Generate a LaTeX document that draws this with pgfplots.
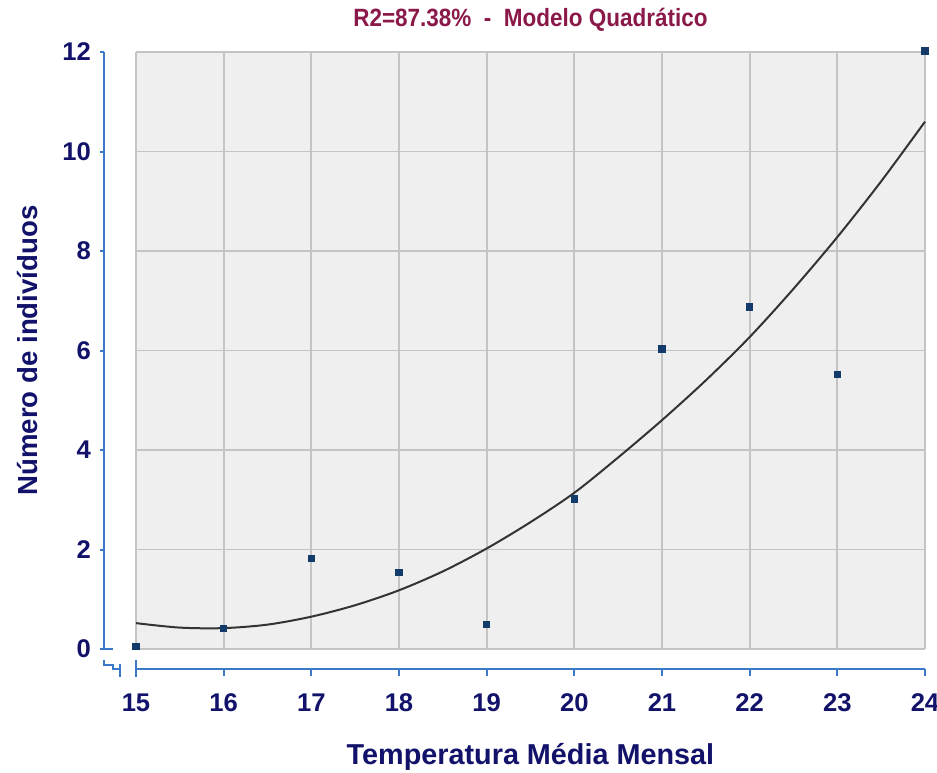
\documentclass[border=0pt]{standalone}
\usepackage{pgfplots}
\pgfplotsset{compat=1.18}
\usepackage{fontspec}
\setmainfont{Liberation Sans}
\newfontfamily\narrowfont[FakeStretch=0.90]{Liberation Sans}
\definecolor{navy}{HTML}{12126A}
\definecolor{axblue}{HTML}{3A78C8}
\definecolor{titlered}{HTML}{8A1848}
\definecolor{bggray}{HTML}{EFEFEF}
\definecolor{gridgray}{HTML}{C4C4C4}
\definecolor{markblue}{HTML}{123A6A}
\begin{document}
\begin{tikzpicture}
\path[use as bounding box] (-68pt,-61.5pt) rectangle (400.5pt,324.5pt);
\begin{axis}[
  at={(0pt,0pt)}, anchor=south west,
  scale only axis,
  width=394.5pt, height=298.5pt,
  xmin=15, xmax=24, ymin=0, ymax=12,
  xtick={15,...,24}, ytick={0,2,...,12},
  axis line style={draw=none},
  major tick length=0pt,
  grid=major,
  grid style={gridgray, line width=0.9pt},
  axis background/.style={fill=bggray},
  clip=false,
  /pgf/number format/assume math mode=true,
  ticklabel style={font=\fontsize{12.8}{15}\selectfont\bfseries, text=navy},
  yticklabel style={xshift=-19pt},
  xticklabel style={yshift=-19pt},
  xlabel={Temperatura Média Mensal},
  ylabel={Número de indivíduos},
  label style={font=\fontsize{13.8}{16}\selectfont\bfseries, text=navy},
  xlabel style={font=\fontsize{14.4}{16}\selectfont\bfseries, at={(axis description cs:0.5,-0.181)}, anchor=center},
  ylabel style={at={(axis description cs:-0.137,0.5)}, anchor=center},
]
\addplot[color=black!80, line width=1pt, smooth] coordinates {
(15,0.52) (15.5,0.43) (16,0.42) (16.5,0.49) (17,0.65) (17.5,0.88) (18,1.18)
(18.5,1.56) (19,2.02) (19.5,2.55) (20,3.14) (20.5,3.85) (21,4.6) (21.5,5.4)
(22,6.27) (22.5,7.24) (23,8.28) (23.5,9.4) (24,10.6)};
\addplot[only marks, mark=square*, mark size=1.6pt, color=markblue] coordinates {
(15,0.05) (16,0.42) (17,1.82) (18,1.54) (19,0.5) (20,3.02) (21,6.03) (22,6.88) (23,5.52) (24,12.02)};
% title
\node[font=\narrowfont\fontsize{12.5}{14}\selectfont\bfseries, text=titlered, anchor=center, inner sep=0pt]
  at ([yshift=16pt]rel axis cs:0.5,1) {R2=87.38\%\ \ -\ \ Modelo Quadrático};
% offset left axis
\draw[axblue, line width=1pt] ([xshift=-16pt]axis cs:15,0) -- ([xshift=-16pt]axis cs:15,12);
\pgfplotsinvokeforeach{2,4,...,12}{
  \draw[axblue, line width=1pt] ([xshift=-16pt]axis cs:15,#1) -- ([xshift=-18pt]axis cs:15,#1);
}
\draw[axblue, line width=1pt] ([xshift=-18pt]axis cs:15,0) -- ([xshift=-11.5pt]axis cs:15,0);
% offset bottom axis
\draw[axblue, line width=1pt] ([yshift=-10pt]axis cs:15,0) -- ([yshift=-10pt]axis cs:24,0);
\pgfplotsinvokeforeach{16,...,24}{
  \draw[axblue, line width=1pt] ([yshift=-10pt]axis cs:#1,0) -- ([yshift=-13.5pt]axis cs:#1,0);
}
\draw[axblue, line width=1pt] ([yshift=-5.5pt]axis cs:15,0) -- ([yshift=-14pt]axis cs:15,0);
% axis break
\draw[axblue, line width=1pt] ([xshift=-16pt,yshift=-5.5pt]axis cs:15,0) -- ([xshift=-16pt,yshift=-8pt]axis cs:15,0) -- ([xshift=-11.5pt,yshift=-8pt]axis cs:15,0) -- ([xshift=-11.5pt,yshift=-10pt]axis cs:15,0) -- ([xshift=-8.5pt,yshift=-10pt]axis cs:15,0);
\draw[axblue, line width=1pt] ([xshift=-8pt,yshift=-7.5pt]axis cs:15,0) -- ([xshift=-8pt,yshift=-14pt]axis cs:15,0);
\end{axis}
\end{tikzpicture}
\end{document}
